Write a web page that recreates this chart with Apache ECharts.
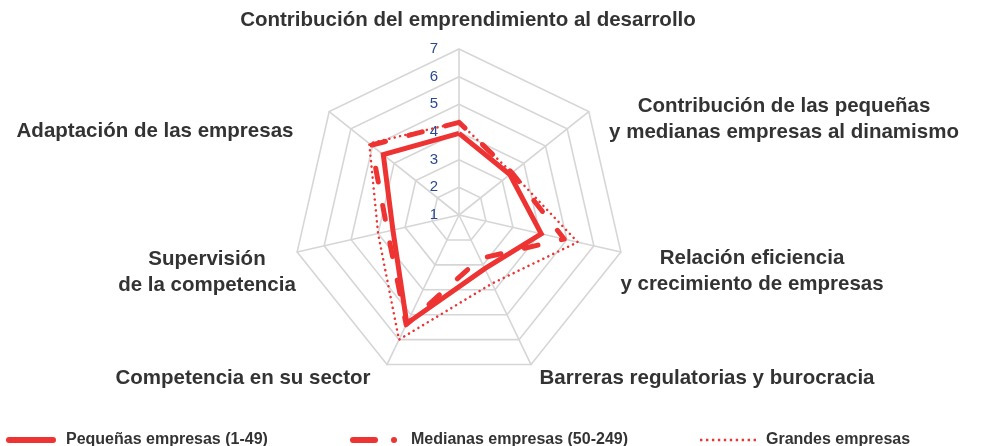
<!DOCTYPE html>
<html>
<head>
<meta charset="utf-8">
<script src="https://cdn.jsdelivr.net/npm/echarts@6/dist/echarts.min.js"></script>
<style>
  html, body { margin: 0; padding: 0; background: #ffffff; }
  #chart { width: 981px; height: 446px; }
</style>
</head>
<body>
<div id="chart"></div>
<script>
// Dimensions, listed clockwise starting from the top axis
const dimensions = [
  'Contribución del emprendimiento al desarrollo',
  'Contribución de las pequeñas\ny medianas empresas al dinamismo',
  'Relación eficiencia\ny crecimiento de empresas',
  'Barreras regulatorias y burocracia',
  'Competencia en su sector',
  'Supervisión\nde la competencia',
  'Adaptación de las empresas'
];

// Scale of every axis (1 to 7)
const scaleMin = 1;
const scaleMax = 7;

const seriesNames = [
  'Pequeñas empresas (1-49)',
  'Medianas empresas (50-249)',
  'Grandes empresas'
];

// Scores, same order as dimensions
const pequenas = [3.95, 3.35, 4.05, 3.15, 5.35, 3.45, 4.5];
const medianas = [4.35, 3.45, 4.9, 2.75, 5.4, 3.65, 5.05];
const grandes  = [4.35, 3.45, 5.4, 3.75, 6.0, 4.0, 5.15];

// ---- presentation ----
const RED = '#ee3333';
const GRID = '#d6d6d6';
const TEXT = '#333333';
const TICK_BLUE = '#2a4a90';
const FONT = '"Liberation Sans", Arial, Helvetica, sans-serif';

// ECharts lays radar indicators out counter-clockwise; keep the top axis first
// and walk the rest backwards so the chart reads clockwise.
const order = [0, 6, 5, 4, 3, 2, 1];
const reorder = arr => order.map(i => arr[i]);

// Where each dimension name sits (centre of the text block)
const nameAnchors = [
  [468, 20], [784, 119], [752, 271], [707, 378], [243, 378], [207, 272], [155, 131]
];

const lineStyles = [
  { color: RED, width: 5, type: 'solid', join: 'miter' },
  { color: RED, width: 5, type: [14, 24], cap: 'round', join: 'round' },
  { color: RED, width: 2.5, type: [0.1, 5.4], cap: 'round', join: 'round' }
];
const seriesValues = [pequenas, medianas, grandes];

const dots = [];
for (let i = 0; i < 10; i++) dots.push('M' + (i * 6) + ',0h2.4v2.4h-2.4z');
const legendIcons = [
  'path://M3,0H47A3,3 0 0 1 47,6H3A3,3 0 0 1 3,0Z',
  'path://M3,0H25A3,3 0 0 1 25,6H3A3,3 0 0 1 3,0Z M44,0A3,3 0 0 1 44,6A3,3 0 0 1 44,0Z',
  'path://' + dots.join(' ')
];
const legendLeft = [1, 345, 695];
const legendSize = [[50, 6], [55, 6], [56, 2.4]];

const chart = echarts.init(document.getElementById('chart'), null, { renderer: 'canvas' });

chart.setOption({
  animation: false,
  backgroundColor: '#ffffff',
  radar: {
    center: [459, 215],
    radius: 166,
    startAngle: 90,
    shape: 'polygon',
    splitNumber: 6,
    axisName: { show: false },
    axisLine: { lineStyle: { color: GRID, width: 1.6 } },
    splitLine: { lineStyle: { color: GRID, width: 1.6 } },
    splitArea: { show: false },
    axisTick: { show: false },
    axisLabel: { show: false },
    indicator: order.map((k, i) => {
      const ind = { name: dimensions[k], min: scaleMin, max: scaleMax };
      if (i === 0) {
        ind.axisLabel = {
          show: true,
          color: TICK_BLUE,
          fontSize: 15,
          fontFamily: FONT,
          margin: 21
        };
      }
      return ind;
    })
  },
  legend: seriesNames.map((name, i) => ({
    data: [{ name: name, icon: legendIcons[i] }],
    left: legendLeft[i],
    top: 427,
    itemWidth: legendSize[i][0],
    itemHeight: legendSize[i][1],
    selectedMode: false,
    textStyle: {
      color: TEXT,
      fontSize: 16,
      fontWeight: 'bold',
      fontFamily: FONT,
      padding: [0, 0, 0, 5]
    }
  })),
  graphic: dimensions.map((name, i) => ({
    type: 'text',
    x: nameAnchors[i][0],
    y: nameAnchors[i][1],
    silent: true,
    style: {
      text: name,
      align: 'center',
      verticalAlign: 'middle',
      fill: TEXT,
      fontSize: 20.5,
      fontWeight: 'bold',
      fontFamily: FONT,
      lineHeight: 26
    }
  })),
  series: [{
    type: 'radar',
    symbol: 'none',
    data: seriesNames.map((name, i) => ({
      name: name,
      value: reorder(seriesValues[i]),
      itemStyle: { color: RED },
      lineStyle: lineStyles[i],
      areaStyle: null
    }))
  }]
});
</script>
</body>
</html>
